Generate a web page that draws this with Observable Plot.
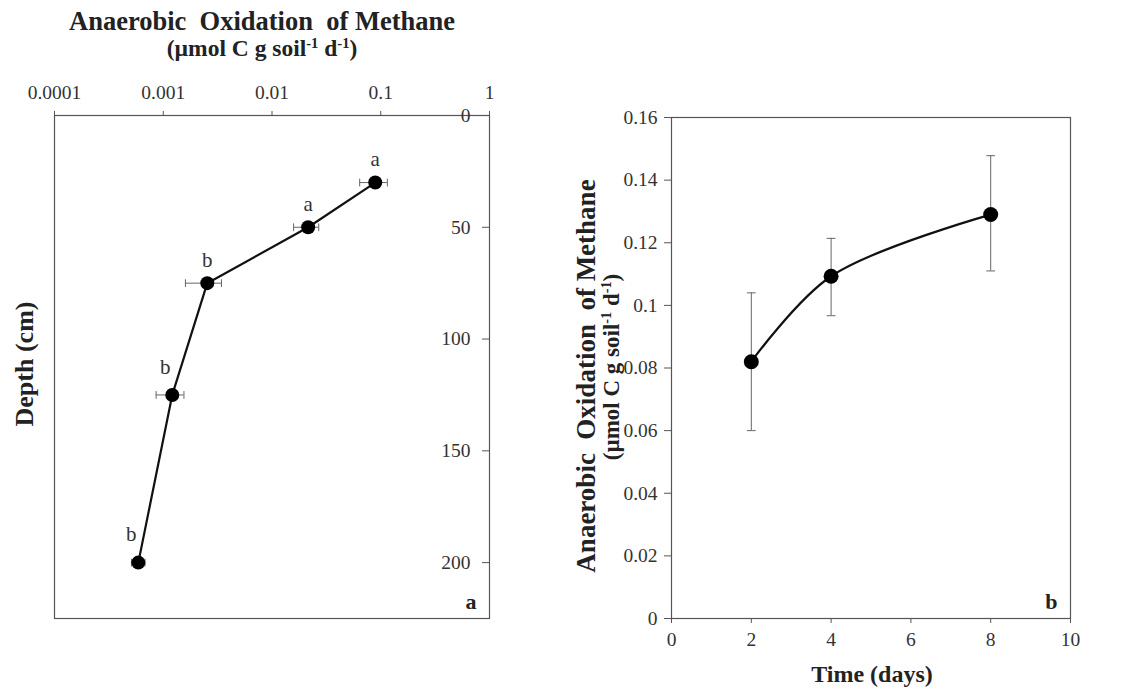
<!DOCTYPE html>
<html><head><meta charset="utf-8">
<script src="https://cdn.jsdelivr.net/npm/d3@7"></script>
<script src="https://cdn.jsdelivr.net/npm/@observablehq/plot@0.6"></script>
<style>
body{margin:0;background:#fff;width:1138px;height:692px;overflow:hidden;position:relative;font-family:"Liberation Serif",serif;}
#left,#right{position:absolute;top:0;}
#left{left:0px;} #right{left:560px;}
.t{position:absolute;font-weight:bold;color:#222;white-space:pre;line-height:1;}
.t sup{font-size:0.62em;vertical-align:0.55em;line-height:0;}
.h{transform:translate(-50%,-50%);}
.v{transform:translate(-50%,-50%) rotate(-90deg);}
</style></head>
<body>
<div id="left"></div>
<div id="right"></div>
<div class="t h" style="left:262px;top:21px;font-size:26.5px;">Anaerobic  Oxidation  of Methane</div>
<div class="t h" style="left:262px;top:49px;font-size:23.5px;">(µmol C g soil<sup>-1</sup> d<sup>-1</sup>)</div>
<div class="t v" style="left:25px;top:364px;font-size:26px;">Depth (cm)</div>
<div class="t v" style="left:586px;top:376px;font-size:27px;">Anaerobic  Oxidation  of Methane</div>
<div class="t v" style="left:611px;top:367px;font-size:23px;">(µmol C g soil<sup>-1</sup> d<sup>-1</sup>)</div>
<div class="t h" style="left:872px;top:674px;font-size:24px;">Time (days)</div>
<script>
// Panel a: AOM rate vs depth
const depth = [30, 50, 75, 125, 200];
const aomRate = [0.089, 0.0215, 0.00254, 0.00121, 0.00059];
const aomLow = [0.064, 0.0158, 0.0016, 0.00086, 0.00051];
const aomHigh = [0.115, 0.0269, 0.00343, 0.00155, 0.00068];
const groupLetter = ["a", "a", "b", "b", "b"];
const rateTicks = [0.0001, 0.001, 0.01, 0.1, 1];
const rateTickLabels = ["0.0001", "0.001", "0.01", "0.1", "1"];
const depthTicks = [0, 50, 100, 150, 200];

// Panel b: AOM rate vs incubation time
const days = [2, 4, 8];
const aomTime = [0.082, 0.1093, 0.129];
const aomTimeLow = [0.060, 0.0967, 0.111];
const aomTimeHigh = [0.104, 0.1214, 0.1478];
const dayTicks = [0, 2, 4, 6, 8, 10];
const aomTicks = [0, 0.02, 0.04, 0.06, 0.08, 0.1, 0.12, 0.14, 0.16];
const aomTickLabels = ["0", "0.02", "0.04", "0.06", "0.08", "0.1", "0.12", "0.14", "0.16"];

const dataA = depth.map((d, i) => ({depth: d, rate: aomRate[i], lo: aomLow[i], hi: aomHigh[i], letter: groupLetter[i], i}));
const dataB = days.map((d, i) => ({day: d, rate: aomTime[i], lo: aomTimeLow[i], hi: aomTimeHigh[i]}));

// straight cap segment; vector's "middle" anchor centres it on the point
const capV = {draw(context, l) { context.moveTo(0, 0); context.lineTo(0, -l); }};
const font = {fontFamily: "Liberation Serif, serif", fontSize: "19px", color: "#333", background: "white"};

const plotA = Plot.plot({
  width: 520, height: 692,
  marginLeft: 54, marginRight: 31, marginTop: 115, marginBottom: 74,
  style: font,
  x: {type: "log", domain: [0.0001, 1]},
  y: {domain: [0, 225], reverse: true},
  marks: [
    Plot.frame({stroke: "#555", strokeWidth: 1.2}),
    Plot.axisX({anchor: "top", ticks: rateTicks, tickFormat: d => rateTickLabels[rateTicks.indexOf(d)], tickSize: 5, tickPadding: 12, fontSize: 19.5, label: null, stroke: "#555"}),
    Plot.axisY({anchor: "right", ticks: depthTicks, tickSize: 8, dx: -8, tickPadding: -19, textAnchor: "end", fontSize: 19.5, label: null, stroke: "#555"}),
    Plot.ruleY(dataA, {y: "depth", x1: "lo", x2: "hi", stroke: "#666", strokeWidth: 1}),
    Plot.vector(dataA, {x: "lo", y: "depth", length: 7, shape: capV, anchor: "middle", stroke: "#666", strokeWidth: 1}),
    Plot.vector(dataA, {x: "hi", y: "depth", length: 7, shape: capV, anchor: "middle", stroke: "#666", strokeWidth: 1}),
    Plot.line(dataA, {x: "rate", y: "depth", stroke: "#111", strokeWidth: 2.2}),
    Plot.dot(dataA, {x: "rate", y: "depth", r: 7, fill: "#000"}),
    Plot.text(dataA.filter(d => d.i < 3), {x: "rate", y: "depth", text: "letter", dy: -23, fontSize: 21, fill: "#333"}),
    Plot.text(dataA.filter(d => d.i >= 3), {x: "rate", y: "depth", text: "letter", dy: -28, dx: -7, fontSize: 21, fill: "#333"}),
    Plot.text(["a"], {frameAnchor: "bottom-right", dx: -13, dy: -10, fontSize: 22, fontWeight: "bold", fill: "#222"})
  ]
});
document.getElementById("left").append(plotA);

const plotB = Plot.plot({
  width: 578, height: 692,
  marginLeft: 111, marginRight: 68, marginTop: 117, marginBottom: 74,
  style: font,
  x: {domain: [0, 10]},
  y: {domain: [0, 0.16]},
  marks: [
    Plot.frame({stroke: "#555", strokeWidth: 1.2}),
    Plot.axisX({anchor: "bottom", ticks: dayTicks, tickSize: 5, tickPadding: 9, fontSize: 19.5, label: null, stroke: "#555"}),
    Plot.axisY({anchor: "left", ticks: aomTicks, tickFormat: d => aomTickLabels[aomTicks.indexOf(d)], tickSize: 7, tickPadding: 7, fontSize: 19.5, label: null, stroke: "#555"}),
    Plot.ruleX(dataB, {x: "day", y1: "lo", y2: "hi", stroke: "#666", strokeWidth: 1}),
    Plot.vector(dataB, {x: "day", y: "lo", length: 8, rotate: 90, shape: capV, anchor: "middle", stroke: "#666", strokeWidth: 1}),
    Plot.vector(dataB, {x: "day", y: "hi", length: 8, rotate: 90, shape: capV, anchor: "middle", stroke: "#666", strokeWidth: 1}),
    Plot.line(dataB, {x: "day", y: "rate", curve: "catmull-rom", stroke: "#111", strokeWidth: 2.2}),
    Plot.dot(dataB, {x: "day", y: "rate", r: 7.5, fill: "#000"}),
    Plot.text(["b"], {frameAnchor: "bottom-right", dx: -13, dy: -10, fontSize: 22, fontWeight: "bold", fill: "#222"})
  ]
});
document.getElementById("right").append(plotB);
</script>
</body></html>
